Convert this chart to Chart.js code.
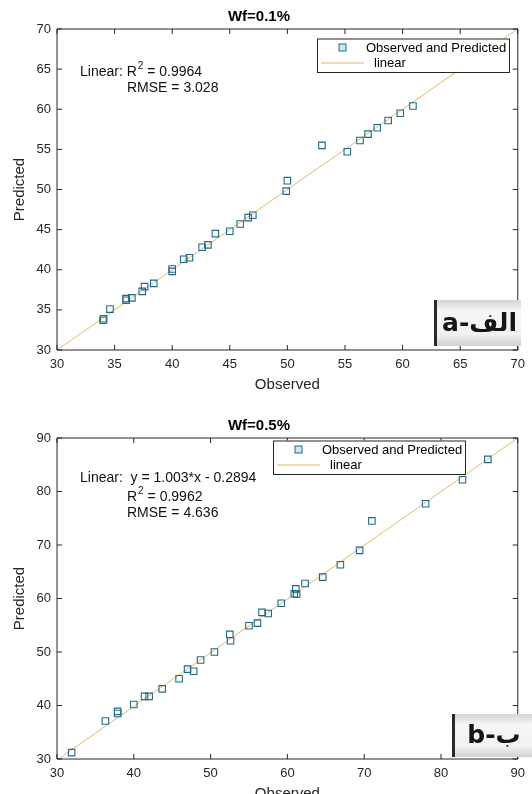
<!DOCTYPE html>
<html>
<head>
<meta charset="utf-8">
<script src="https://cdn.jsdelivr.net/npm/chart.js@4/dist/chart.umd.min.js"></script>
<style>
  html, body { margin: 0; padding: 0; background: #fff; }
  body { width: 532px; height: 794px; overflow: hidden; position: relative; }
  .box { position: absolute; left: 0; width: 532px; height: 400px; }
  #box1 { top: 0; }
  #box2 { top: 409px; }
</style>
</head>
<body>
<div class="box" id="box1"><canvas id="chart1" width="532" height="400"></canvas></div>
<div class="box" id="box2"><canvas id="chart2" width="532" height="400"></canvas></div>
<script>
// Wf=0.1%
const observed1 = [34.0, 34.05, 34.6, 36.0, 36.0, 36.5, 37.4, 37.6, 38.4, 40.0, 40.0, 41.0, 41.5, 42.6, 43.1, 43.75,
  45.0, 45.9, 46.6, 47.0, 49.9, 50.0, 53.0, 55.2, 56.3, 57.0, 57.8, 58.75, 59.8, 60.9];
const predicted1 = [33.7, 33.9, 35.1, 36.2, 36.4, 36.5, 37.3, 37.9, 38.3, 39.8, 40.1, 41.3, 41.5, 42.8, 43.1, 44.5,
  44.8, 45.7, 46.5, 46.8, 49.8, 51.1, 55.5, 54.7, 56.1, 56.9, 57.7, 58.6, 59.5, 60.4];
const fitX1 = [30, 70];
const fitY1 = [30, 70];
const ticks1 = [30, 35, 40, 45, 50, 55, 60, 65, 70];

// Wf=0.5%
const observed2 = [31.9, 36.3, 37.9, 37.9, 40.0, 41.4, 42.0, 43.7, 45.9, 47.0, 47.8, 48.7, 50.5, 52.5, 52.6, 55.0,
  56.1, 56.7, 57.5, 59.2, 60.9, 61.2, 61.1, 62.3, 64.6, 66.9, 69.4, 71.0, 78.0, 82.8, 86.1];
const predicted2 = [31.2, 37.1, 38.9, 38.5, 40.2, 41.7, 41.7, 43.1, 45.0, 46.8, 46.4, 48.5, 50.0, 53.3, 52.1, 54.9,
  55.4, 57.4, 57.2, 59.1, 60.9, 60.8, 61.8, 62.8, 64.0, 66.3, 69.0, 74.5, 77.7, 82.2, 86.0];
const fitX2 = [30, 90];
const fitY2 = [29.8, 90];
const ticks2 = [30, 40, 50, 60, 70, 80, 90];

const markerColor = "#1d6a8c";
const lineColor = "#e3b95c";
const axisColor = "#262626";
const FONT = '"Liberation Sans", Arial, sans-serif';

Chart.defaults.font.family = FONT;
Chart.defaults.color = axisColor;

// box around the plot with matlab style inward ticks
const frame = {
  id: "frame",
  afterDatasetsDraw(chart) {
    const { ctx, chartArea: a, scales } = chart;
    ctx.save();
    ctx.strokeStyle = axisColor;
    ctx.lineWidth = 1;
    ctx.beginPath();
    ctx.rect(a.left, a.top, a.right - a.left, a.bottom - a.top);
    scales.x.ticks.forEach((t) => {
      const px = scales.x.getPixelForValue(t.value);
      ctx.moveTo(px, a.bottom);
      ctx.lineTo(px, a.bottom - 5);
      ctx.moveTo(px, a.top);
      ctx.lineTo(px, a.top + 5);
    });
    scales.y.ticks.forEach((t) => {
      const py = scales.y.getPixelForValue(t.value);
      ctx.moveTo(a.left, py);
      ctx.lineTo(a.left + 5, py);
      ctx.moveTo(a.right, py);
      ctx.lineTo(a.right - 5, py);
    });
    ctx.stroke();
    ctx.restore();
  },
};

// legend box, fit text and the a/b badge
const overlay = {
  id: "overlay",
  afterDraw(chart, args, o) {
    const ctx = chart.ctx;
    ctx.save();

    const L = o.legend;
    ctx.fillStyle = "#fff";
    ctx.fillRect(L.x, L.y, 192, 33.5);
    ctx.strokeStyle = axisColor;
    ctx.lineWidth = 1;
    ctx.strokeRect(L.x + 0.5, L.y + 0.5, 192, 33.5);
    ctx.fillStyle = "#cfe6ef";
    ctx.fillRect(L.x + 22, L.y + 5.5, 7, 7);
    ctx.strokeStyle = markerColor;
    ctx.strokeRect(L.x + 22, L.y + 5.5, 7, 7);
    ctx.strokeStyle = lineColor;
    ctx.beginPath();
    ctx.moveTo(L.x + 4, L.y + 24.5);
    ctx.lineTo(L.x + 47, L.y + 24.5);
    ctx.stroke();
    ctx.fillStyle = "#000";
    ctx.font = "13px " + FONT;
    ctx.textBaseline = "middle";
    ctx.fillText("Observed and Predicted", L.x + 49, L.y + 9.5);
    ctx.fillText("linear", L.x + 57, L.y + 24.5);

    ctx.fillStyle = "#111";
    o.notes.forEach((n) => {
      let x = n.x;
      n.parts.forEach((p) => {
        if (p.sup) {
          ctx.font = "10px " + FONT;
          ctx.fillText(p.t, x + 1, n.y - 6);
          x += ctx.measureText(p.t).width + 1;
        } else {
          ctx.font = "14px " + FONT;
          ctx.fillText(p.t, x, n.y);
          x += ctx.measureText(p.t).width;
        }
      });
    });

    const B = o.badge;
    const g = ctx.createLinearGradient(0, B.y, 0, B.y + B.h);
    g.addColorStop(0, "#d4d4d4");
    g.addColorStop(0.25, "#f6f6f6");
    g.addColorStop(0.75, "#f1f1f1");
    g.addColorStop(1, "#d0d0d0");
    ctx.fillStyle = g;
    ctx.fillRect(B.x, B.y, B.w, B.h);
    ctx.fillStyle = "#2a2a2a";
    ctx.fillRect(B.x, B.y, 3, B.h);
    ctx.fillStyle = "#151515";
    ctx.font = 'bold 25px "DejaVu Sans", sans-serif';
    ctx.textAlign = "center";
    ctx.direction = "ltr";
    ctx.fillText(B.text, B.x + B.w / 2 + 2, B.y + B.h / 2 + 1);
    ctx.restore();
  },
};

function makeChart(id, title, obs, pred, fitX, fitY, ticks, overlayOpts) {
  const axis = (label, isX) => ({
    type: "linear",
    min: ticks[0],
    max: ticks[ticks.length - 1],
    grid: { display: false, drawTicks: false },
    border: { display: false },
    ticks: {
      autoSkip: false,
      padding: isX ? 7 : 6,
      color: axisColor,
      font: { size: 13 },
    },
    afterBuildTicks: (s) => {
      s.ticks = ticks.map((v) => ({ value: v }));
    },
    afterFit: (s) => {
      if (isX) s.height = 50;
      else s.width = 57;
    },
    title: {
      display: true,
      text: label,
      color: axisColor,
      font: { size: 15 },
      padding: isX ? { top: 0, bottom: 6 } : { top: 11, bottom: 0 },
    },
  });

  return new Chart(document.getElementById(id), {
    type: "scatter",
    data: {
      datasets: [
        {
          label: "Observed and Predicted",
          data: obs.map((v, i) => ({ x: v, y: pred[i] })),
          pointStyle: "rect",
          pointRadius: 4.6,
          borderWidth: 1.1,
          borderColor: markerColor,
          backgroundColor: "transparent",
          order: 0,
        },
        {
          label: "linear",
          data: fitX.map((v, i) => ({ x: v, y: fitY[i] })),
          showLine: true,
          pointRadius: 0,
          borderWidth: 1,
          borderColor: lineColor,
          order: 1,
        },
      ],
    },
    options: {
      responsive: false,
      animation: false,
      devicePixelRatio: 1,
      layout: { padding: { top: 0, right: 14, bottom: 0, left: 0 } },
      scales: { x: axis("Observed", true), y: axis("Predicted", false) },
      plugins: {
        legend: { display: false },
        tooltip: { enabled: false },
        title: {
          display: true,
          text: title,
          color: "#000",
          font: { size: 15, weight: "bold" },
          padding: { top: 8, bottom: 3 },
        },
        overlay: overlayOpts,
      },
    },
    plugins: [frame, overlay],
  });
}

makeChart("chart1", "Wf=0.1%", observed1, predicted1, fitX1, fitY1, ticks1, {
  legend: { x: 317, y: 38.5 },
  notes: [
    { x: 80, y: 72, parts: [{ t: "Linear: R" }, { t: "2", sup: true }, { t: " = 0.9964" }] },
    { x: 127, y: 88, parts: [{ t: "RMSE = 3.028" }] },
  ],
  badge: { x: 434, y: 300, w: 87, h: 46, text: "a-الف" },
});

makeChart("chart2", "Wf=0.5%", observed2, predicted2, fitX2, fitY2, ticks2, {
  legend: { x: 273, y: 31.5 },
  notes: [
    { x: 80, y: 69.5, parts: [{ t: "Linear:  y = 1.003*x - 0.2894" }] },
    { x: 127, y: 88.5, parts: [{ t: "R" }, { t: "2", sup: true }, { t: " = 0.9962" }] },
    { x: 127, y: 104.5, parts: [{ t: "RMSE = 4.636" }] },
  ],
  badge: { x: 452, y: 305, w: 80, h: 43, text: "b-ب" },
});
</script>
</body>
</html>
